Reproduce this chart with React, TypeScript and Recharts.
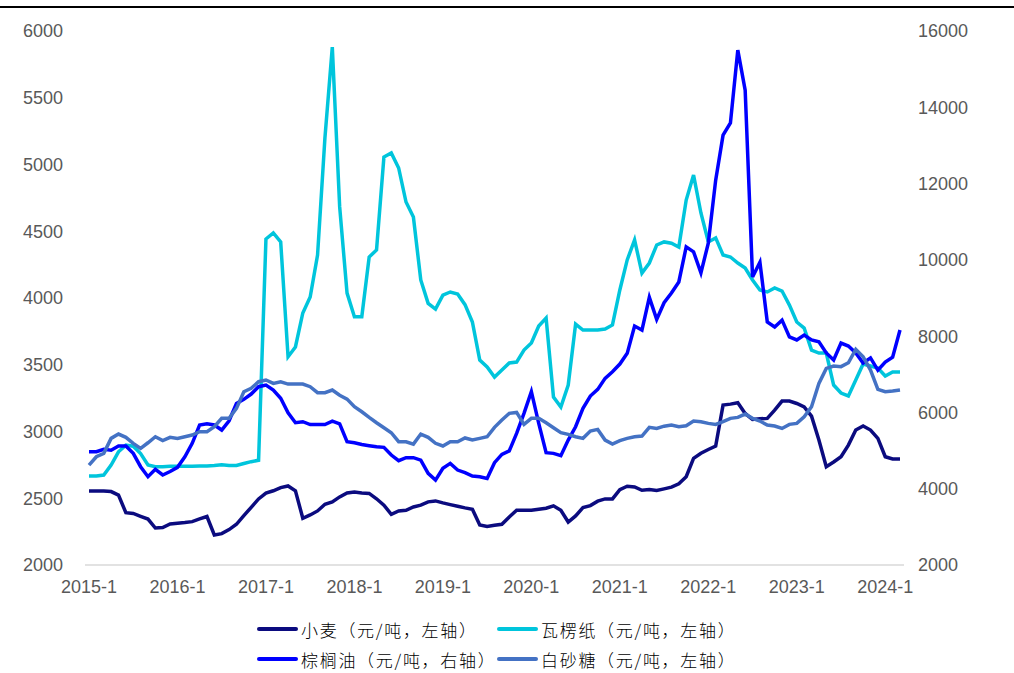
import { LineChart, Line, XAxis, YAxis } from "recharts"

// 月度价格，2015-1 至 2024-3
const wheat = [
  2555, 2555, 2555, 2550, 2524, 2392, 2386, 2365, 2344, 2277, 2280, 2307,
  2313, 2318, 2325, 2345, 2363, 2225, 2235, 2265, 2305, 2370, 2432, 2495,
  2538, 2556, 2580, 2592, 2556, 2350, 2375, 2405, 2455, 2472, 2510, 2540,
  2546, 2540, 2536, 2496, 2448, 2380, 2405, 2410, 2435, 2448, 2473, 2480,
  2465, 2452, 2440, 2428, 2418, 2300, 2288, 2297, 2305, 2360, 2410, 2410,
  2410, 2418, 2425, 2443, 2410, 2322, 2368, 2430, 2445, 2478, 2495, 2495,
  2565, 2590, 2585, 2560, 2565, 2558, 2570, 2583, 2608, 2661, 2799, 2837,
  2865, 2891, 3198, 3205, 3215, 3135, 3090, 3095, 3098, 3160, 3228, 3228,
  3210, 3185, 3115, 2936, 2736, 2772, 2811, 2898, 3011, 3041, 3011, 2948,
  2811, 2794, 2794,
]

const cardboard = [
  2667, 2667, 2674, 2749, 2848, 2898, 2890, 2835, 2749, 2736, 2736, 2740,
  2740, 2740, 2740, 2742, 2742, 2745, 2750, 2745, 2745, 2760, 2774, 2785,
  4442, 4487, 4420, 3560, 3633, 3888, 4008, 4322, 5200, 5880, 4682, 4037,
  3860, 3860, 4307, 4360, 5056, 5086, 4974, 4719, 4607, 4135, 3960, 3917,
  4022, 4045, 4030, 3950, 3820, 3535, 3483, 3408, 3460, 3513, 3520, 3610,
  3663, 3790, 3850, 3258, 3183, 3348, 3805, 3760, 3760, 3760, 3768, 3798,
  4060, 4285, 4435, 4187, 4262, 4397, 4420, 4410, 4382, 4734, 4921, 4637,
  4420, 4450, 4322, 4307, 4262, 4225, 4135, 4060, 4045, 4075, 4052, 3947,
  3820, 3775, 3610, 3588, 3588, 3348, 3288, 3266, 3386, 3506, 3491, 3476,
  3416, 3446, 3446,
]

const palmOil = [
  4970, 4970, 5032, 5010, 5119, 5119, 4927, 4577, 4315, 4507, 4360, 4450,
  4560, 4838, 5190, 5670, 5700, 5670, 5538, 5782, 6237, 6343, 6482, 6674,
  6718, 6587, 6370, 5992, 5730, 5757, 5683, 5683, 5683, 5770, 5700, 5232,
  5205, 5160, 5128, 5100, 5085, 4883, 4735, 4814, 4814, 4750, 4403, 4227,
  4535, 4665, 4490, 4420, 4333, 4315, 4270, 4683, 4900, 4990, 5452, 5977,
  6543, 5713, 4945, 4927, 4865, 5276, 5625, 6107, 6430, 6605, 6894, 7068,
  7269, 7549, 8265, 8160, 9017, 8440, 8876, 9130, 9420, 10340, 10210, 9660,
  10440, 12090, 13270, 13590, 15500, 14450, 9550, 9940, 8370, 8240, 8420, 7980,
  7900, 8030, 7900, 7850, 7560, 7375, 7820, 7740, 7560, 7295, 7430, 7110,
  7320, 7450, 8160,
]

const sugar = [
  4620, 4838, 4927, 5320, 5433, 5346, 5190, 5058, 5205, 5363, 5260, 5346,
  5320, 5363, 5407, 5494, 5494, 5625, 5845, 5845, 6107, 6543, 6632, 6805,
  6850, 6760, 6805, 6743, 6743, 6743, 6674, 6517, 6517, 6587, 6450, 6350,
  6150, 6018, 5870, 5730, 5600, 5468, 5232, 5232, 5170, 5433, 5346, 5190,
  5120, 5232, 5232, 5330, 5276, 5320, 5363, 5610, 5800, 5975, 6000, 5687,
  5845, 5845, 5730, 5600, 5468, 5425, 5363, 5320, 5512, 5555, 5276, 5170,
  5260, 5320, 5363, 5380, 5610, 5580, 5640, 5670, 5625, 5650, 5775, 5757,
  5713, 5687, 5757, 5845, 5870, 5957, 5845, 5775, 5670, 5643, 5580, 5687,
  5713, 5887, 6150, 6762, 7155, 7217, 7200, 7303, 7655, 7460, 7110, 6605,
  6543, 6560, 6587,
]

const months = wheat.map((_, i) => `${2015 + Math.floor(i / 12)}-${(i % 12) + 1}`)

const leftTicks = [2000, 2500, 3000, 3500, 4000, 4500, 5000, 5500, 6000]
const rightTicks = [2000, 4000, 6000, 8000, 10000, 12000, 14000, 16000]

const series = [
  { key: "wheat", name: "小麦（元/吨，左轴）", color: "#0B0B7F", axis: "left", values: wheat },
  { key: "cardboard", name: "瓦楞纸（元/吨，左轴）", color: "#00C5DC", axis: "left", values: cardboard },
  { key: "palmOil", name: "棕榈油（元/吨，右轴）", color: "#0000FF", axis: "right", values: palmOil },
  { key: "sugar", name: "白砂糖（元/吨，左轴）", color: "#4472C4", axis: "right", values: sugar },
]

const data = months.map((month, i) => {
  const row: Record<string, string | number> = { month }
  series.forEach((s) => {
    row[s.key] = s.values[i]
  })
  return row
})

const tickStyle = { fill: "#595959", fontSize: 18, fontFamily: "'Liberation Sans', Arial, sans-serif" }

// 图例两行两列
const legendPos = [
  { left: 257, top: 629 },
  { left: 497, top: 629 },
  { left: 257, top: 659 },
  { left: 497, top: 659 },
]

export default function App() {
  return (
    <div style={{ position: "relative", width: 1014, height: 673, background: "#fff" }}>
      <style>{"body{margin:0}"}</style>
      <div style={{ position: "absolute", left: 0, top: 6, width: 1014, height: 2, background: "#000" }} />
      <LineChart
        width={1014}
        height={610}
        data={data}
        margin={{ top: 31, right: 0, bottom: 5, left: 0 }}
      >
        <XAxis
          dataKey="month"
          interval={11}
          tick={tickStyle}
          tickLine={false}
          tickSize={0}
          tickMargin={15}
          height={40}
          axisLine={{ stroke: "#D9D9D9", strokeWidth: 1.5 }}
          padding={{ left: 4, right: 4 }}
        />
        <YAxis
          yAxisId="left"
          domain={[2000, 6000]}
          ticks={leftTicks}
          width={85}
          tick={tickStyle}
          tickLine={false}
          axisLine={false}
          tickSize={0}
          tickMargin={22}
        />
        <YAxis
          yAxisId="right"
          orientation="right"
          domain={[2000, 16000]}
          ticks={rightTicks}
          width={110}
          tick={{ ...tickStyle, textAnchor: "start" }}
          tickLine={false}
          axisLine={false}
          tickSize={0}
          tickMargin={14}
        />
        {series.map((s) => (
          <Line
            key={s.key}
            yAxisId={s.axis}
            type="linear"
            dataKey={s.key}
            name={s.name}
            stroke={s.color}
            strokeWidth={3.5}
            dot={false}
            isAnimationActive={false}
          />
        ))}
      </LineChart>
      {series.map((s, i) => (
        <div
          key={s.key}
          style={{
            position: "absolute",
            left: legendPos[i].left,
            top: legendPos[i].top - 12,
            height: 24,
            display: "flex",
            alignItems: "center",
            fontFamily: "'Noto Sans CJK SC', sans-serif",
            fontSize: 17,
            fontWeight: 300,
            letterSpacing: 1.7,
            color: "#000",
            whiteSpace: "nowrap",
          }}
        >
          <span style={{ display: "inline-block", width: 41, height: 4, borderRadius: 2, background: s.color, marginRight: 3 }} />
          <span>{s.name}</span>
        </div>
      ))}
    </div>
  )
}
